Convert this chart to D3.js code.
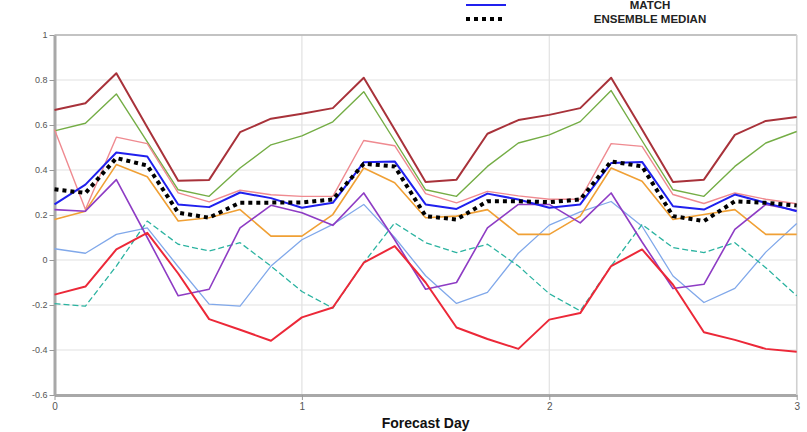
<!DOCTYPE html>
<html>
<head>
<meta charset="utf-8">
<script src="https://cdn.jsdelivr.net/npm/d3@7"></script>
<style>
  html, body { margin: 0; padding: 0; background: #fff; }
  svg { display: block; }
</style>
</head>
<body>
<svg id="chart" width="807" height="432"></svg>
<script>
// Forecast steps every 3 hours over three days
const forecastDays = d3.range(25).map(i => i / 8);
const xTickValues = [0, 1, 2, 3];
const xTickLabels = ["0", "1", "2", "3"];
const yTickValues = [1, 0.8, 0.6, 0.4, 0.2, 0, -0.2, -0.4, -0.6];
const yTickLabels = ["1", "0.8", "0.6", "0.4", "0.2", "0", "-0.2", "-0.4", "-0.6"];

// Ensemble members
const memberDarkRed = [0.667, 0.697, 0.83, 0.59, 0.352, 0.356, 0.568, 0.628, 0.65, 0.675, 0.81, 0.58, 0.347, 0.357, 0.561, 0.622, 0.645, 0.675, 0.81, 0.58, 0.347, 0.357, 0.556, 0.618, 0.636];
const memberGreen = [0.574, 0.608, 0.738, 0.525, 0.312, 0.283, 0.409, 0.512, 0.552, 0.614, 0.748, 0.53, 0.312, 0.283, 0.416, 0.52, 0.556, 0.615, 0.753, 0.53, 0.312, 0.283, 0.416, 0.52, 0.571];
const memberPink = [0.58, 0.224, 0.546, 0.517, 0.298, 0.258, 0.31, 0.29, 0.283, 0.283, 0.531, 0.508, 0.295, 0.254, 0.305, 0.285, 0.27, 0.27, 0.517, 0.505, 0.291, 0.251, 0.298, 0.27, 0.25];
const memberOrange = [0.18, 0.217, 0.424, 0.37, 0.173, 0.188, 0.224, 0.106, 0.106, 0.202, 0.409, 0.343, 0.188, 0.195, 0.224, 0.114, 0.114, 0.195, 0.409, 0.35, 0.18, 0.202, 0.224, 0.114, 0.114];
const memberPurple = [0.224, 0.217, 0.357, 0.1, -0.159, -0.13, 0.143, 0.243, 0.21, 0.154, 0.298, 0.09, -0.13, -0.1, 0.143, 0.247, 0.247, 0.165, 0.298, 0.08, -0.127, -0.108, 0.136, 0.247, 0.22];
const memberLightBlue = [0.05, 0.03, 0.114, 0.143, -0.03, -0.196, -0.205, -0.027, 0.09, 0.158, 0.247, 0.1, -0.07, -0.193, -0.144, 0.03, 0.155, 0.214, 0.26, 0.15, -0.071, -0.189, -0.126, 0.035, 0.162];
const memberTeal = [-0.194, -0.205, -0.027, 0.173, 0.07, 0.04, 0.077, -0.027, -0.14, -0.214, -0.012, 0.165, 0.077, 0.033, 0.07, -0.027, -0.15, -0.226, -0.027, 0.158, 0.055, 0.033, 0.077, -0.034, -0.159];
const memberRed = [-0.154, -0.118, 0.047, 0.121, -0.06, -0.263, -0.31, -0.359, -0.255, -0.211, -0.012, 0.062, -0.1, -0.3, -0.351, -0.395, -0.265, -0.236, -0.027, 0.047, -0.11, -0.321, -0.355, -0.395, -0.408];

// Highlighted series
const matchValues = [0.247, 0.335, 0.478, 0.46, 0.247, 0.235, 0.3, 0.275, 0.232, 0.254, 0.434, 0.438, 0.247, 0.227, 0.295, 0.269, 0.232, 0.247, 0.431, 0.436, 0.239, 0.224, 0.291, 0.254, 0.217];
const medianValues = [0.314, 0.298, 0.453, 0.42, 0.21, 0.188, 0.255, 0.255, 0.256, 0.269, 0.428, 0.416, 0.195, 0.18, 0.261, 0.261, 0.257, 0.269, 0.438, 0.416, 0.195, 0.173, 0.261, 0.254, 0.242];

const legendLabels = ["MATCH", "ENSEMBLE MEDIAN"];

const series = [
  { values: memberDarkRed,   color: "#a8323a", width: 2,   dash: null },
  { values: memberGreen,     color: "#74ad45", width: 1.4, dash: null },
  { values: memberPink,      color: "#ef8a90", width: 1.4, dash: null },
  { values: memberLightBlue, color: "#80a8ea", width: 1.3, dash: null },
  { values: memberTeal,      color: "#2bb3a0", width: 1.3, dash: "6,3" },
  { values: memberOrange,    color: "#f0a035", width: 1.6, dash: null },
  { values: memberPurple,    color: "#8e3cc4", width: 1.6, dash: null },
  { values: memberRed,       color: "#ec2838", width: 2,   dash: null },
  { values: matchValues,     color: "#2020ee", width: 2,   dash: null },
  { values: medianValues,    color: "#000000", width: 4,   dash: "4,4" }
];

const svg = d3.select("#chart");
const plotLeft = 54.5, plotRight = 796.7, plotTop = 35, plotBottom = 395;

const x = d3.scaleLinear().domain([0, 3]).range([plotLeft, plotRight]);
const y = d3.scaleLinear().domain([-0.6, 1]).range([plotBottom, plotTop]);

// Grid
svg.append("g").selectAll("line").data(yTickValues).join("line")
  .attr("x1", plotLeft).attr("x2", plotRight)
  .attr("y1", d => y(d)).attr("y2", d => y(d))
  .attr("stroke", "#e2e2e2").attr("stroke-width", 1.2);
svg.append("g").selectAll("line").data(xTickValues.slice(1)).join("line")
  .attr("x1", d => x(d)).attr("x2", d => x(d))
  .attr("y1", plotTop).attr("y2", plotBottom)
  .attr("stroke", "#e2e2e2").attr("stroke-width", 1.2);

// Frame
svg.append("line").attr("x1", plotLeft).attr("x2", plotRight).attr("y1", plotTop).attr("y2", plotTop)
  .attr("stroke", "#b4b4b4").attr("stroke-width", 1.5);

// Axes
const yAxis = d3.axisLeft(y).tickValues(yTickValues)
  .tickFormat((d, i) => yTickLabels[i]).tickSize(5).tickSizeOuter(0);
const gy = svg.append("g").attr("transform", `translate(${plotLeft},0)`).call(yAxis);
gy.select(".domain").attr("stroke", "#a8a8a8").attr("stroke-width", 3);
gy.selectAll(".tick line").attr("stroke", "#999");
gy.selectAll(".tick text").attr("fill", "#555").attr("font-size", 9)
  .attr("font-family", "Liberation Sans, Arial, sans-serif").attr("x", -7);

const xAxis = d3.axisBottom(x).tickValues(xTickValues)
  .tickFormat((d, i) => xTickLabels[i]).tickSize(5).tickSizeOuter(0);
const gx = svg.append("g").attr("transform", `translate(0,${plotBottom})`).call(xAxis);
gx.select(".domain").attr("stroke", "#a8a8a8").attr("stroke-width", 3);
gx.selectAll(".tick line").attr("stroke", "#999");
gx.selectAll(".tick text").attr("fill", "#555").attr("font-size", 10)
  .attr("font-family", "Liberation Sans, Arial, sans-serif").attr("y", 8);

svg.append("line").attr("x1", plotRight).attr("x2", plotRight).attr("y1", plotTop).attr("y2", plotBottom)
  .attr("stroke", "#d0d0d0").attr("stroke-width", 1.5);

// Lines
const line = d3.line().x((d, i) => x(forecastDays[i])).y(d => y(d));
svg.append("g").selectAll("path").data(series).join("path")
  .attr("d", d => line(d.values))
  .attr("fill", "none")
  .attr("stroke", d => d.color)
  .attr("stroke-width", d => d.width)
  .attr("stroke-dasharray", d => d.dash)
  .attr("stroke-linejoin", "round");

// Axis title
svg.append("text").attr("x", (plotLeft + plotRight) / 2).attr("y", 428)
  .attr("text-anchor", "middle").attr("font-family", "Liberation Sans, Arial, sans-serif")
  .attr("font-weight", "bold").attr("font-size", 14).attr("fill", "#111")
  .text("Forecast Day");

// Legend
const legend = svg.append("g");
const legendRows = [
  { label: legendLabels[0], color: "#2020ee", width: 2, dash: null, yPos: 5 },
  { label: legendLabels[1], color: "#000", width: 4, dash: "4,4", yPos: 19 }
];
legendRows.forEach(r => {
  legend.append("line").attr("x1", 466).attr("x2", 506)
    .attr("y1", r.yPos).attr("y2", r.yPos)
    .attr("stroke", r.color).attr("stroke-width", r.width)
    .attr("stroke-dasharray", r.dash);
  legend.append("text").attr("x", 650).attr("y", r.yPos + 4)
    .attr("text-anchor", "middle").attr("font-family", "Liberation Sans Narrow, Liberation Sans, Arial, sans-serif")
    .attr("font-weight", "bold").attr("font-size", 11.5).attr("fill", "#222")
    .text(r.label);
});
</script>
</body>
</html>
